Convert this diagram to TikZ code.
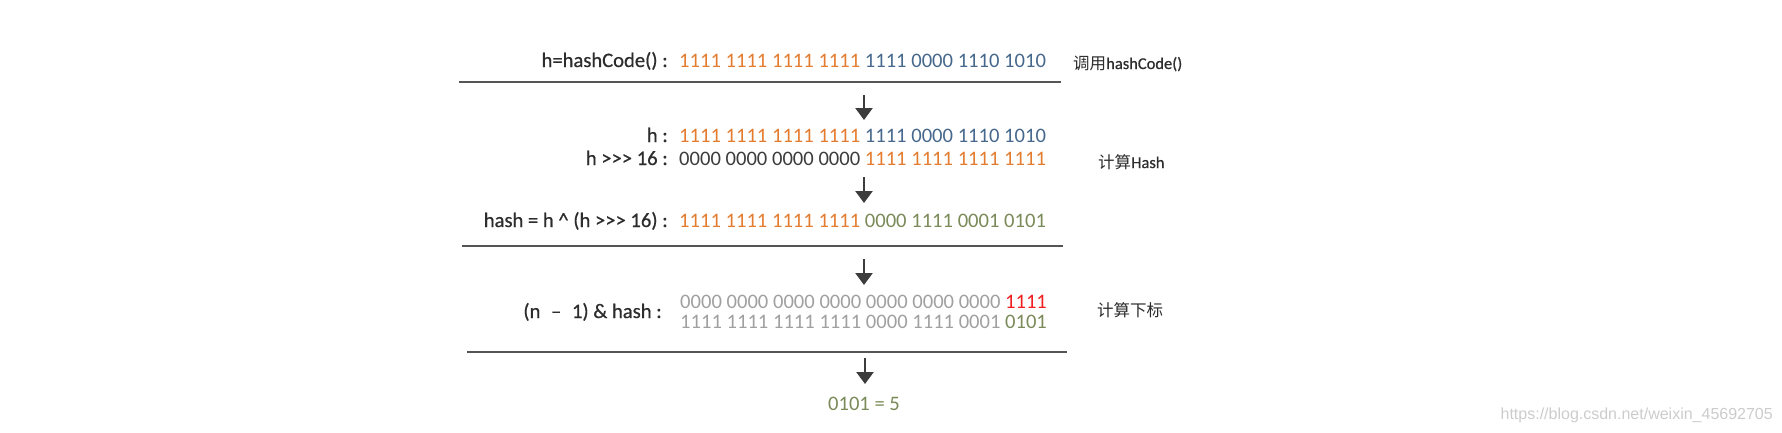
\documentclass[tikz,border=0pt]{standalone}
\usepackage{fontspec}
\setmainfont{Carlito}
\newfontfamily\labfont{Carlito}[FakeBold=0.6]
\newfontfamily\cjk{Noto Sans CJK SC}
\newfontfamily\wmfont{Liberation Sans}
\usetikzlibrary{arrows.meta}
\definecolor{horange}{RGB}{228,124,48}
\definecolor{hblue}{RGB}{70,104,140}
\definecolor{hgreen}{RGB}{122,138,88}
\definecolor{hgray}{RGB}{160,160,160}
\definecolor{hred}{RGB}{240,30,30}
\definecolor{hdark}{RGB}{60,60,60}
\definecolor{hlabel}{RGB}{45,45,45}
\definecolor{hrule}{RGB}{85,85,85}
\newcommand{\ggg}{>\kern0pt>\kern0pt>}
\tikzset{
  x=1pt, y=-1pt,
  lab/.style={inner sep=0pt, text=hlabel, font=\labfont\fontsize{20.6}{22}\selectfont, anchor=base east},
  num/.style={inner sep=0pt, text=hdark, font=\fontsize{20.6}{22}\selectfont, anchor=base west},
  side/.style={inner sep=0pt, text=hlabel, font=\labfont\fontsize{16.5}{18}\selectfont, anchor=base west},
  rulebar/.style={draw=hrule, line width=2.6pt},
  downarrow/.style={draw=hdark, line width=2.4pt, -{Triangle[width=17pt,length=12pt]}, fill=hdark},
}
\begin{document}
\begin{tikzpicture}
\useasboundingbox (0,0) rectangle (1782,432);
% row 1
\node[lab] (l1) at (668,67) {h=hashCode() :};
\node[num] (n1) at (679,67) {\textcolor{horange}{1111 1111 1111 1111} \textcolor{hblue}{1111 0000 1110 1010}};
\node[side] (s1) at (1073,69) {{\cjk 调用}hashCode()};
\coordinate (r1a) at (459,82);
\coordinate (r1b) at (1061,82);
\draw[rulebar] (r1a) -- (r1b);
% arrow 1
\coordinate (a1s) at (864,95);
\coordinate (a1e) at (864,120);
\draw[downarrow] (a1s) -- (a1e);
% rows h and h>>>16
\node[lab] (l2) at (668,142) {h :};
\node[num] (n2) at (679,142) {\textcolor{horange}{1111 1111 1111 1111} \textcolor{hblue}{1111 0000 1110 1010}};
\node[lab] (l3) at (668,165) {h \ggg{} 16 :};
\node[num] (n3) at (679,165) {0000 0000 0000 0000 \textcolor{horange}{1111 1111 1111 1111}};
\node[side] (s2) at (1098,168) {{\cjk 计算}Hash};
% arrow 2
\coordinate (a2s) at (864,177);
\coordinate (a2e) at (864,203);
\draw[downarrow] (a2s) -- (a2e);
% hash row
\node[lab] (l4) at (668,227) {hash = h \^{} (h \ggg{} 16) :};
\node[num] (n4) at (679,227) {\textcolor{horange}{1111 1111 1111 1111} \textcolor{hgreen}{0000 1111 0001 0101}};
\coordinate (r2a) at (462,246);
\coordinate (r2b) at (1063,246);
\draw[rulebar] (r2a) -- (r2b);
% arrow 3
\coordinate (a3s) at (864,259);
\coordinate (a3e) at (864,285);
\draw[downarrow] (a3s) -- (a3e);
% index rows
\node[lab] (l5) at (662,318) {(n\hspace{6pt} – \hspace{6pt}1) \& hash :};
\node[num, text=hgray] (n5) at (680,308) {0000 0000 0000 0000 0000 0000 0000 \textcolor{hred}{1111}};
\node[num, text=hgray] (n6) at (680,328) {1111 1111 1111 1111 0000 1111 0001 \textcolor{hgreen}{0101}};
\node[side] (s3) at (1097,316) {\cjk 计算下标};
\coordinate (r3a) at (467,352);
\coordinate (r3b) at (1067,352);
\draw[rulebar] (r3a) -- (r3b);
% arrow 4
\coordinate (a4s) at (865,358);
\coordinate (a4e) at (865,384);
\draw[downarrow] (a4s) -- (a4e);
% result
\node[num, text=hgreen, anchor=base] (res) at (864,410) {0101 = 5};
% watermark
\node[inner sep=0pt, anchor=base east, text=black!20, font=\wmfont\fontsize{16}{18}\selectfont] (wm) at (1773,419) {https://blog.csdn.net/weixin\_45692705};
\end{tikzpicture}
\end{document}
